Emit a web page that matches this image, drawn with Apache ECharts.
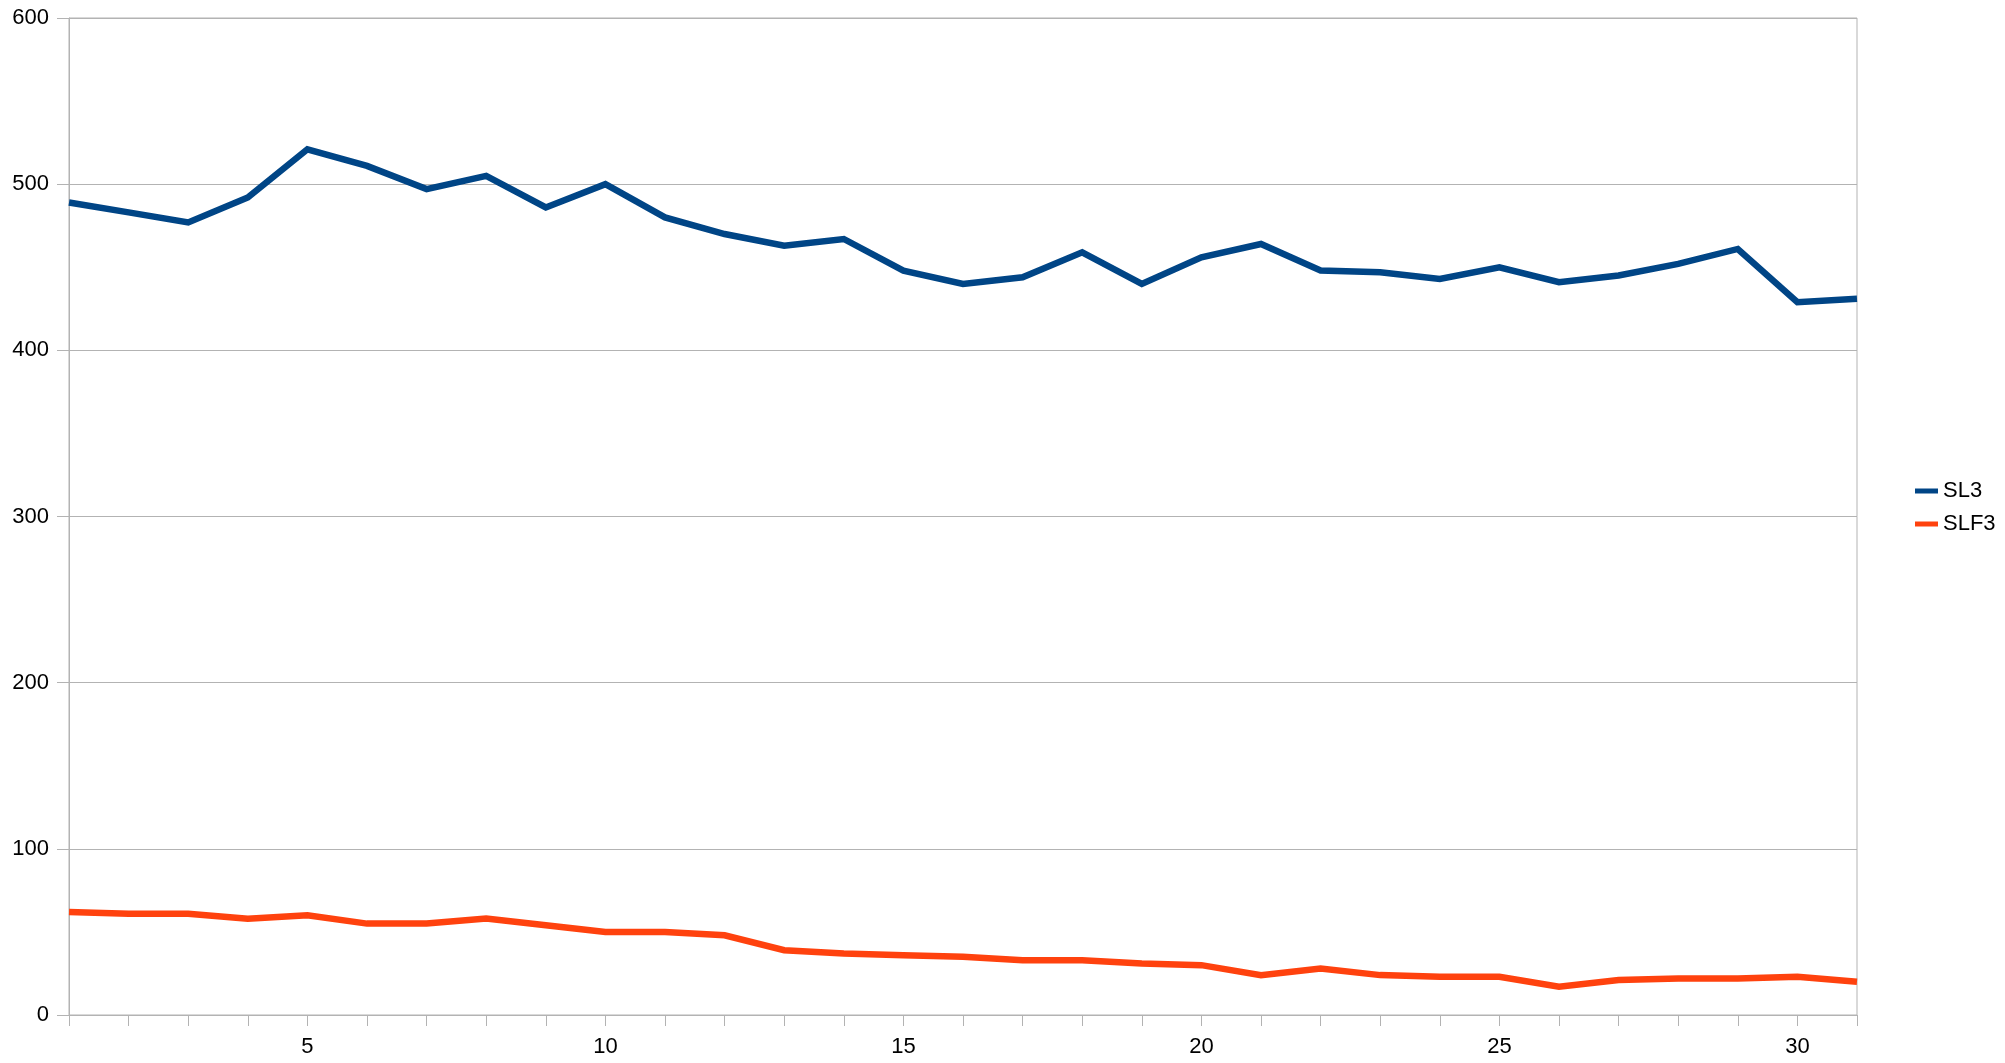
<!DOCTYPE html>
<html>
<head>
<meta charset="utf-8">
<title>SL3 / SLF3</title>
<script src="https://cdn.jsdelivr.net/npm/echarts@6/dist/echarts.min.js"></script>
<style>
html, body { margin: 0; padding: 0; background: #ffffff; }
#main { width: 2005px; height: 1063px; }
</style>
</head>
<body>
<div id="main"></div>
<script>
// 数据
var days = [];
for (var d = 1; d <= 31; d++) { days.push(String(d)); }
var sl3 = [489, 483, 477, 492, 521, 511, 497, 505, 486, 500,
           480, 470, 463, 467, 448, 440, 444, 459, 440, 456,
           464, 448, 447, 443, 450, 441, 445, 452, 461, 429, 431];
var slf3 = [62, 61, 61, 58, 60, 55, 55, 58, 54, 50,
            50, 48, 39, 37, 36, 35, 33, 33, 31, 30,
            24, 28, 24, 23, 23, 17, 21, 22, 22, 23, 20];
var yTicks = [0, 100, 200, 300, 400, 500, 600];

var myChart = echarts.init(document.getElementById('main'));
var font = 'Liberation Sans, Arial, sans-serif';

option = {
    backgroundColor: '#ffffff',
    animation: false,
    grid: {
        left: 69,
        right: 148,
        top: 18,
        bottom: 48,
        show: true,
        borderColor: '#b3b3b3',
        borderWidth: 1
    },
    legend: {
        orient: 'vertical',
        left: 1910,
        top: 475,
        itemWidth: 23,
        itemHeight: 5,
        itemGap: 11,
        icon: 'rect',
        textStyle: { fontFamily: font, fontSize: 22, color: '#000000' },
        data: ['SL3', 'SLF3']
    },
    xAxis: {
        type: 'category',
        boundaryGap: false,
        data: days,
        axisLine: { lineStyle: { color: '#b3b3b3', width: 1 } },
        axisTick: { show: true, interval: 0, length: 11, lineStyle: { color: '#b3b3b3' } },
        axisLabel: {
            interval: function (idx, val) { return Number(val) % 5 === 0; },
            margin: 21,
            fontFamily: font,
            fontSize: 22,
            color: '#000000'
        },
        splitLine: { show: false }
    },
    yAxis: {
        type: 'value',
        min: yTicks[0],
        max: yTicks[yTicks.length - 1],
        interval: 100,
        axisLine: { show: true, lineStyle: { color: '#b3b3b3', width: 1 } },
        axisTick: { show: true, length: 12, lineStyle: { color: '#b3b3b3' } },
        axisLabel: { margin: 20, fontFamily: font, fontSize: 22, color: '#000000' },
        splitLine: { show: true, lineStyle: { color: '#b3b3b3', width: 1 } }
    },
    series: [{
        name: 'SL3',
        type: 'line',
        data: sl3,
        showSymbol: false,
        symbol: 'none',
        itemStyle: { color: '#004586' },
        lineStyle: { color: '#004586', width: 6.5, join: 'miter' }
    }, {
        name: 'SLF3',
        type: 'line',
        data: slf3,
        showSymbol: false,
        symbol: 'none',
        itemStyle: { color: '#ff420e' },
        lineStyle: { color: '#ff420e', width: 6.5, join: 'miter' }
    }]
};

myChart.setOption(option);
</script>
</body>
</html>
